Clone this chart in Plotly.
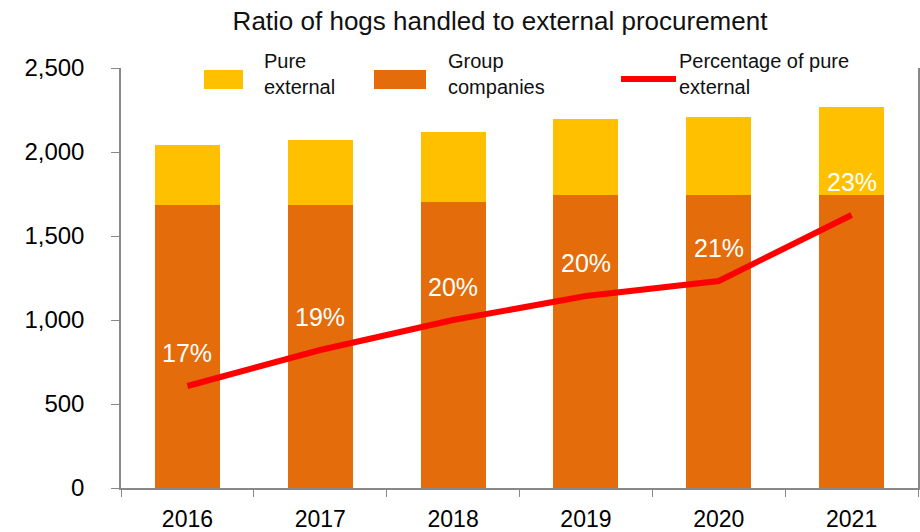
import plotly.graph_objects as go

years = ["2016", "2017", "2018", "2019", "2020", "2021"]
group_companies = [1684, 1684, 1705, 1746, 1746, 1746]
pure_external = [357, 386, 415, 450, 462, 523]
pct_pure = [17.4, 18.6, 19.6, 20.4, 20.9, 23.1]
pct_labels = ["17%", "19%", "20%", "20%", "21%", "23%"]

FONT = "Liberation Sans, Arial, sans-serif"
ORANGE = "#E46C0A"
YELLOW = "#FFC000"
RED = "#FF0000"

fig = go.Figure()
fig.add_trace(go.Bar(x=years, y=group_companies, name="Group companies",
                     marker=dict(color=ORANGE, line=dict(width=0))))
fig.add_trace(go.Bar(x=years, y=pure_external, name="Pure external",
                     marker=dict(color=YELLOW, line=dict(width=0))))
fig.add_trace(go.Scatter(x=years, y=pct_pure, name="Percentage of pure external",
                         mode="lines", yaxis="y2",
                         line=dict(color=RED, width=6)))

# category axis: annotation x uses the category index
for i, (v, lab) in enumerate(zip(pct_pure, pct_labels)):
    fig.add_annotation(x=i, y=v, xref="x", yref="y2", text=lab, showarrow=False,
                       yshift=33, font=dict(family=FONT, size=25, color="white"))

# manual legend
L, R, T, B = 121, 918, 68, 488
PW, PH = R - L, B - T
legend_items = [
    dict(kind="box", color=YELLOW, x0=204, x1=243, tx=262, text="Pure<br>external"),
    dict(kind="box", color=ORANGE, x0=374, x1=426, tx=446, text="Group<br>companies"),
    dict(kind="line", color=RED, x0=621, x1=676, tx=677, text="Percentage of pure<br>external"),
]
W, H = 920, 532
for it in legend_items:
    if it["kind"] == "box":
        fig.add_shape(type="rect", xref="paper", yref="paper",
                      x0=(it["x0"] - L) / PW, x1=(it["x1"] - L) / PW,
                      y0=(B - 89) / PH, y1=(B - 70) / PH,
                      fillcolor=it["color"], line=dict(width=0), layer="above")
    else:
        fig.add_shape(type="line", xref="paper", yref="paper",
                      x0=(it["x0"] - L) / PW, x1=(it["x1"] - L) / PW,
                      y0=(B - 79) / PH, y1=(B - 79) / PH,
                      line=dict(color=it["color"], width=6))
    fig.add_annotation(xref="paper", yref="paper", x=(it["tx"] - L) / PW,
                       y=(B - 74) / PH, xanchor="left", yanchor="middle",
                       text=it["text"], showarrow=False, align="left",
                       font=dict(family=FONT, size=20, color="#111111"))

fig.update_layout(
    width=W, height=H,
    barmode="stack", bargap=0.51,
    showlegend=False,
    plot_bgcolor="white", paper_bgcolor="white",
    margin=dict(l=L, r=W - R, t=T, b=H - B, autoexpand=False),
    font=dict(family=FONT, color="#000000"),
    title=dict(text="Ratio of hogs handled to external procurement",
               x=500 / 920, xanchor="center", y=1 - 21 / 532, yanchor="middle",
               font=dict(family=FONT, size=26, color="#111111")),
    xaxis=dict(type="category", range=[-0.5, 5.5],
               showline=True, linecolor="#888888", linewidth=1.5,
               ticks="outside", tickson="boundaries", ticklen=7, tickcolor="#888888",
               tickfont=dict(size=23, color="#000000"), ticklabelstandoff=10,
               tickangle=0, automargin=False,
               showgrid=False, zeroline=False),
    yaxis=dict(range=[0, 2500], dtick=500, tickformat=",d",
               showline=True, linecolor="#888888", linewidth=1.5,
               ticks="outside", ticklen=8, tickcolor="#888888",
               tickfont=dict(size=24, color="#000000"), ticklabelstandoff=22,
               automargin=False, showgrid=False, zeroline=False),
    yaxis2=dict(range=[14, 28], dtick=2, overlaying="y", side="right",
                showline=True, linecolor="#888888", linewidth=1.5,
                ticks="outside", ticklen=6, tickcolor="#888888",
                showticklabels=False, automargin=False,
                showgrid=False, zeroline=False),
)

fig.write_html("out.html")
